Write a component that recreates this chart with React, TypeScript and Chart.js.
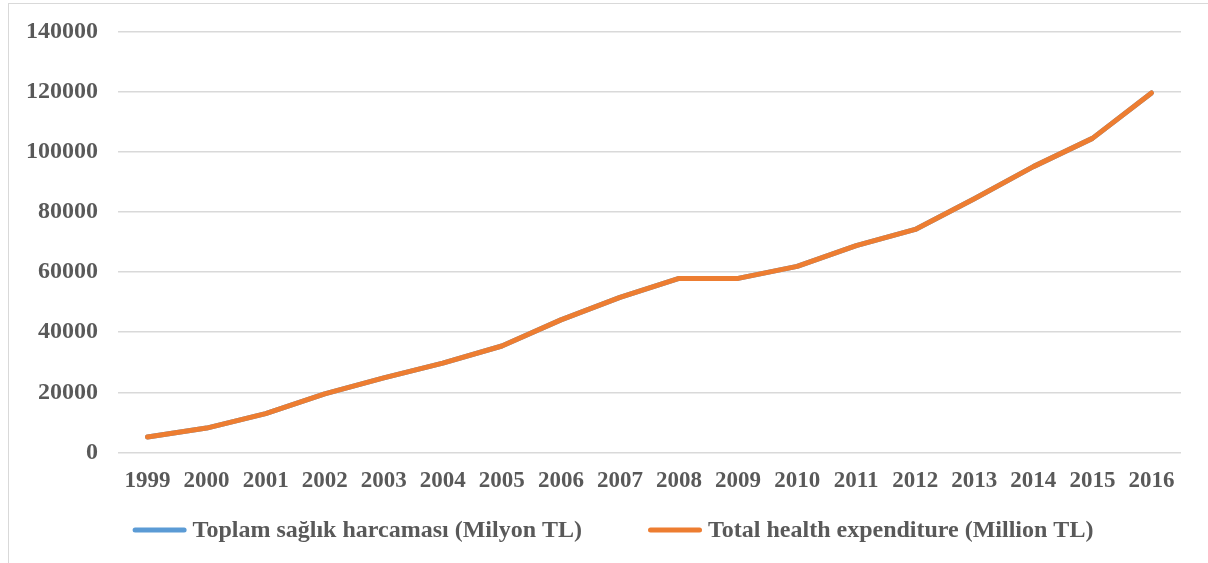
import React, { useEffect, useRef } from "react";
import { Chart, registerables } from "chart.js";

Chart.register(...registerables);

const years = ["1999", "2000", "2001", "2002", "2003", "2004", "2005", "2006", "2007", "2008", "2009", "2010", "2011", "2012", "2013", "2014", "2015", "2016"];
const toplamSaglik = [5100, 8100, 12900, 19500, 24800, 29700, 35400, 44100, 51600, 57900, 57900, 61900, 68800, 74200, 84400, 95100, 104500, 119600];
const totalHealth = [5100, 8100, 12900, 19500, 24800, 29700, 35400, 44100, 51600, 57900, 57900, 61900, 68800, 74200, 84400, 95100, 104500, 119600];
const yMin = 0;
const yMax = 140000;
const yStep = 20000;

const FONT = '"Liberation Serif", "Times New Roman", serif';
const TEXT = "#595959";

const bottomLegend = {
  id: "bottomLegend",
  afterDraw(chart: any) {
    const ctx = chart.ctx;
    const sample = 54;
    const gap = 6;
    const itemGap = 66;
    const centerX = 613;
    const y = 531;
    ctx.save();
    ctx.font = `bold 24px ${FONT}`;
    const items = chart.data.datasets.map((ds: any) => ({
      label: ds.label as string,
      color: ds.borderColor as string,
      w: ctx.measureText(ds.label).width,
    }));
    const total = items.reduce((s: number, it: any) => s + sample + gap + it.w, 0) + itemGap * (items.length - 1);
    let x = centerX - total / 2;
    for (const it of items) {
      ctx.strokeStyle = it.color;
      ctx.lineWidth = 5;
      ctx.lineCap = "round";
      ctx.beginPath();
      ctx.moveTo(x + 2.5, y - 1);
      ctx.lineTo(x + sample - 2.5, y - 1);
      ctx.stroke();
      ctx.fillStyle = TEXT;
      ctx.textAlign = "left";
      ctx.textBaseline = "middle";
      ctx.fillText(it.label, x + sample + gap, y);
      x += sample + gap + it.w + itemGap;
    }
    ctx.restore();
  },
};

export default function App() {
  const ref = useRef<HTMLCanvasElement | null>(null);

  useEffect(() => {
    if (!ref.current) return;
    const chart = new Chart(ref.current, {
      type: "line",
      data: {
        labels: years,
        datasets: [
          {
            label: "Toplam sağlık harcaması (Milyon TL)",
            data: toplamSaglik,
            borderColor: "#5B9BD5",
            backgroundColor: "#5B9BD5",
            borderWidth: 5,
            pointRadius: 0,
            borderCapStyle: "round",
            borderJoinStyle: "round",
            order: 1,
          },
          {
            label: "Total health expenditure (Million TL)",
            data: totalHealth,
            borderColor: "#ED7D31",
            backgroundColor: "#ED7D31",
            borderWidth: 5,
            pointRadius: 0,
            borderCapStyle: "round",
            borderJoinStyle: "round",
            order: 0,
          },
        ],
      },
      options: {
        animation: false,
        responsive: false,
        devicePixelRatio: 1,
        layout: { padding: { left: 0, right: 27, top: 31.7, bottom: 53 } },
        plugins: {
          title: { display: false },
          tooltip: { enabled: false },
          legend: { display: false },
        },
        scales: {
          x: {
            offset: true,
            grid: { display: false, drawTicks: false },
            border: { display: false },
            ticks: {
              autoSkip: false,
              maxRotation: 0,
              padding: 15,
              color: TEXT,
              font: { family: FONT, size: 23, weight: "bold" },
            },
          },
          y: {
            min: yMin,
            max: yMax,
            afterFit: (scale: any) => {
              scale.width = 118;
              scale.paddingTop = 0;
              scale.paddingBottom = 0;
            },
            grid: { color: "#D9D9D9", lineWidth: 1.5, drawTicks: false },
            border: { display: false },
            ticks: {
              stepSize: yStep,
              padding: 20,
              color: TEXT,
              font: { family: FONT, size: 24, weight: "bold" },
              callback: (v: any) => String(v),
            },
          },
        },
      },
      plugins: [bottomLegend],
    });
    return () => chart.destroy();
  }, []);

  return (
    <div style={{ position: "absolute", left: 0, top: 0, width: 1208, height: 563, overflow: "hidden", background: "#fff" }}>
      <div style={{ position: "absolute", left: 8, top: 3, width: 1220, height: 580, border: "1px solid #D9D9D9", boxSizing: "border-box" }} />
      <canvas ref={ref} width={1208} height={563} style={{ position: "absolute", left: 0, top: 0 }} />
    </div>
  );
}
